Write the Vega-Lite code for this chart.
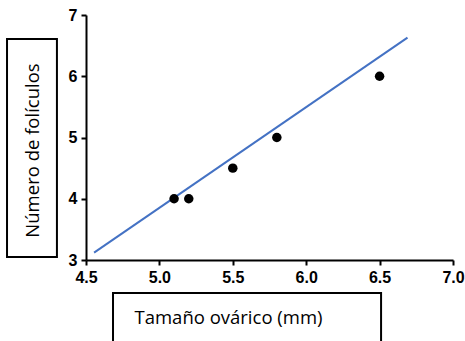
{
  "$schema": "https://vega.github.io/schema/vega-lite/v6.json",
  "autosize": "none",
  "width": 367,
  "height": 245,
  "padding": {"left": 86, "top": 15, "right": 12, "bottom": 81},
  "background": "white",
  "config": {
    "view": {"stroke": null},
    "axis": {
      "grid": false,
      "domainColor": "black",
      "domainWidth": 2,
      "tickColor": "black",
      "tickWidth": 2,
      "tickSize": 5,
      "labelFont": "Liberation Sans",
      "labelFontWeight": "bold",
      "labelFontSize": 16,
      "labelColor": "black",
      "labelFlush": false,
      "labelOverlap": false
    }
  },
  "datasets": {
    "pts": [
      {"tam": 5.1, "num": 4},
      {"tam": 5.2, "num": 4},
      {"tam": 5.5, "num": 4.5},
      {"tam": 5.8, "num": 5},
      {"tam": 6.5, "num": 6}
    ],
    "fit": [
      {"tam": 4.555, "num": 3.12},
      {"tam": 6.69, "num": 6.63}
    ],
    "boxes": [
      {"tam": 4.684, "tam2": 6.51, "num": 2.46, "num2": 1.5},
      {"tam": 3.962, "tam2": 4.302, "num": 6.608, "num2": 3.049}
    ]
  },
  "layer": [
    {
      "data": {"name": "boxes"},
      "mark": {"type": "rect", "fill": null, "filled": false, "stroke": "black", "strokeWidth": 2, "clip": false},
      "encoding": {
        "x": {
          "field": "tam", "type": "quantitative",
          "scale": {"domain": [4.5, 7], "nice": false, "zero": false},
          "axis": {
            "values": [4.5, 5.0, 5.5, 6.0, 6.5, 7.0],
            "format": ".1f",
            "labelFlush": false,
            "labelPadding": 4,
            "title": "Tamaño ovárico (mm)",
            "titleFont": "Open Sans",
            "titleFontWeight": "normal",
            "titleFontSize": 18.5,
            "titleColor": "black",
            "titleX": 142,
            "titleY": 57,
            "titleBaseline": "middle",
            "titleAlign": "center"
          }
        },
        "x2": {"field": "tam2"},
        "y": {
          "field": "num", "type": "quantitative",
          "scale": {"domain": [3, 7], "nice": false, "zero": false},
          "axis": {
            "values": [3, 4, 5, 6, 7],
            "format": "d",
            "labelFlush": false,
            "labelPadding": 4,
            "title": "Número de folículos",
            "titleFont": "Open Sans",
            "titleFontWeight": "normal",
            "titleFontSize": 18.5,
            "titleColor": "black",
            "titleX": -54,
            "titleY": 135,
            "titleBaseline": "middle",
            "titleAlign": "center",
            "titleAngle": -90
          }
        },
        "y2": {"field": "num2"}
      }
    },
    {
      "data": {"name": "fit"},
      "mark": {"type": "line", "color": "#4472C4", "strokeWidth": 2},
      "encoding": {
        "x": {"field": "tam", "type": "quantitative"},
        "y": {"field": "num", "type": "quantitative"}
      }
    },
    {
      "data": {"name": "pts"},
      "mark": {"type": "circle", "color": "black", "opacity": 1, "size": 90},
      "encoding": {
        "x": {"field": "tam", "type": "quantitative"},
        "y": {"field": "num", "type": "quantitative"}
      }
    }
  ]
}
